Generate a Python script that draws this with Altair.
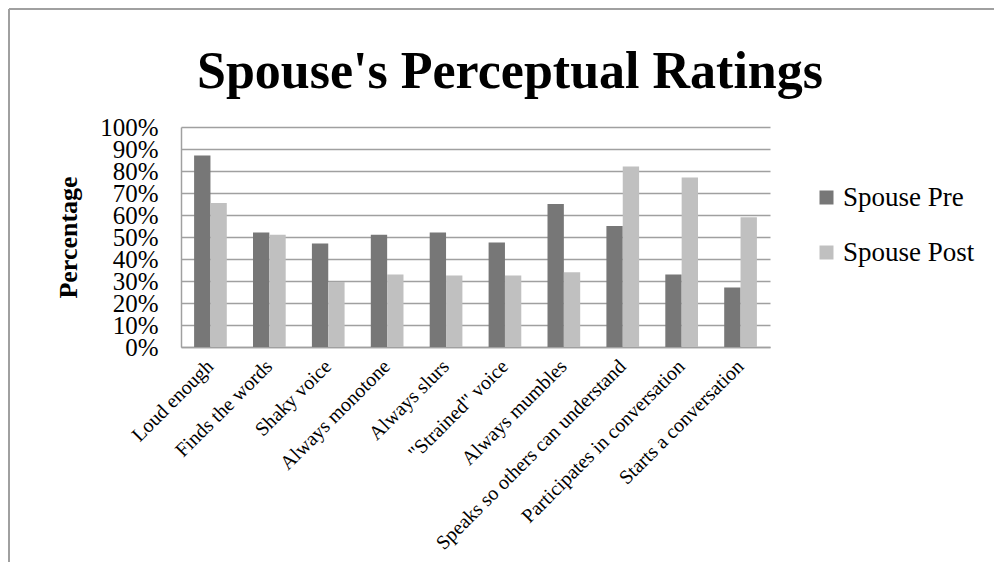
import altair as alt
import pandas as pd

categories = ["Loud enough", "Finds the words", "Shaky voice", "Always monotone",
              "Always slurs", "\"Strained\" voice", "Always mumbles",
              "Speaks so others can understand", "Participates in conversation",
              "Starts a conversation"]
spouse_pre = [0.87, 0.52, 0.47, 0.51, 0.52, 0.475, 0.65, 0.55, 0.33, 0.27]
spouse_post = [0.655, 0.51, 0.295, 0.33, 0.325, 0.325, 0.34, 0.82, 0.77, 0.59]
series = ["Spouse Pre", "Spouse Post"]
y_ticks = [i / 10 for i in range(11)]
chart_title = "Spouse's Perceptual Ratings"

rows = []
for c, a, b in zip(categories, spouse_pre, spouse_post):
    rows.append({"cat": c, "series": series[0], "value": a})
    rows.append({"cat": c, "series": series[1], "value": b})
df = pd.DataFrame(rows)

SERIF = "Liberation Serif"
GRID = "#a0a0a0"

bars = alt.Chart(df).mark_bar().encode(
    x=alt.X("cat:N", sort=categories,
            scale=alt.Scale(paddingInner=0.445, paddingOuter=0.2225),
            axis=alt.Axis(title=None, labelAngle=-45, labelFont=SERIF, labelFontSize=20,
                          labelColor="black", domainColor=GRID, domainWidth=1.5,
                          ticks=False, labelPadding=16, labelAlign="right",
                          labelBaseline="middle", labelLimit=400)),
    xOffset=alt.XOffset("series:N", sort=series),
    y=alt.Y("value:Q", scale=alt.Scale(domain=[0, 1], nice=False),
            axis=alt.Axis(values=y_ticks, format=".0%", title="Percentage",
                          titleFont=SERIF, titleFontSize=26, titleFontWeight="bold",
                          titleColor="black", titlePadding=18,
                          labelFont=SERIF, labelFontSize=25, labelColor="black",
                          labelPadding=23, labelOverlap=False, ticks=False,
                          domainColor=GRID, domainWidth=1.5,
                          gridColor=GRID, gridWidth=1.5)),
    color=alt.Color("series:N", sort=series,
                    scale=alt.Scale(domain=series, range=["#777777", "#c0c0c0"]),
                    legend=alt.Legend(title=None, orient="none", legendX=632, legendY=57,
                                      symbolType="square", symbolSize=196,
                                      symbolStrokeWidth=0,
                                      labelFont=SERIF, labelFontSize=27,
                                      labelColor="black", rowPadding=27, labelOffset=3)),
)

one = pd.DataFrame({"a": [0]})
border_top = alt.Chart(one).mark_rule(color="#a0a0a0", strokeWidth=2).encode(
    x=alt.value(-172), x2=alt.value(820), y=alt.value(-118))
border_left = alt.Chart(one).mark_rule(color="#a0a0a0", strokeWidth=2).encode(
    x=alt.value(-172), y=alt.value(-118), y2=alt.value(440))
title = alt.Chart(one).mark_text(font=SERIF, fontSize=52, fontWeight="bold", color="black",
                                 align="center", baseline="alphabetic").encode(
    x=alt.value(329), y=alt.value(-39), text=alt.value(chart_title))

chart = alt.layer(border_top, border_left, title, bars).properties(
    width=589, height=220,
    autosize=alt.AutoSizeParams(type="none"),
    padding={"left": 173, "top": 119, "right": 224, "bottom": 215},
    background="white",
).configure_view(stroke=None)

chart.save("out.html", embed_options={"renderer": "svg", "actions": False})
